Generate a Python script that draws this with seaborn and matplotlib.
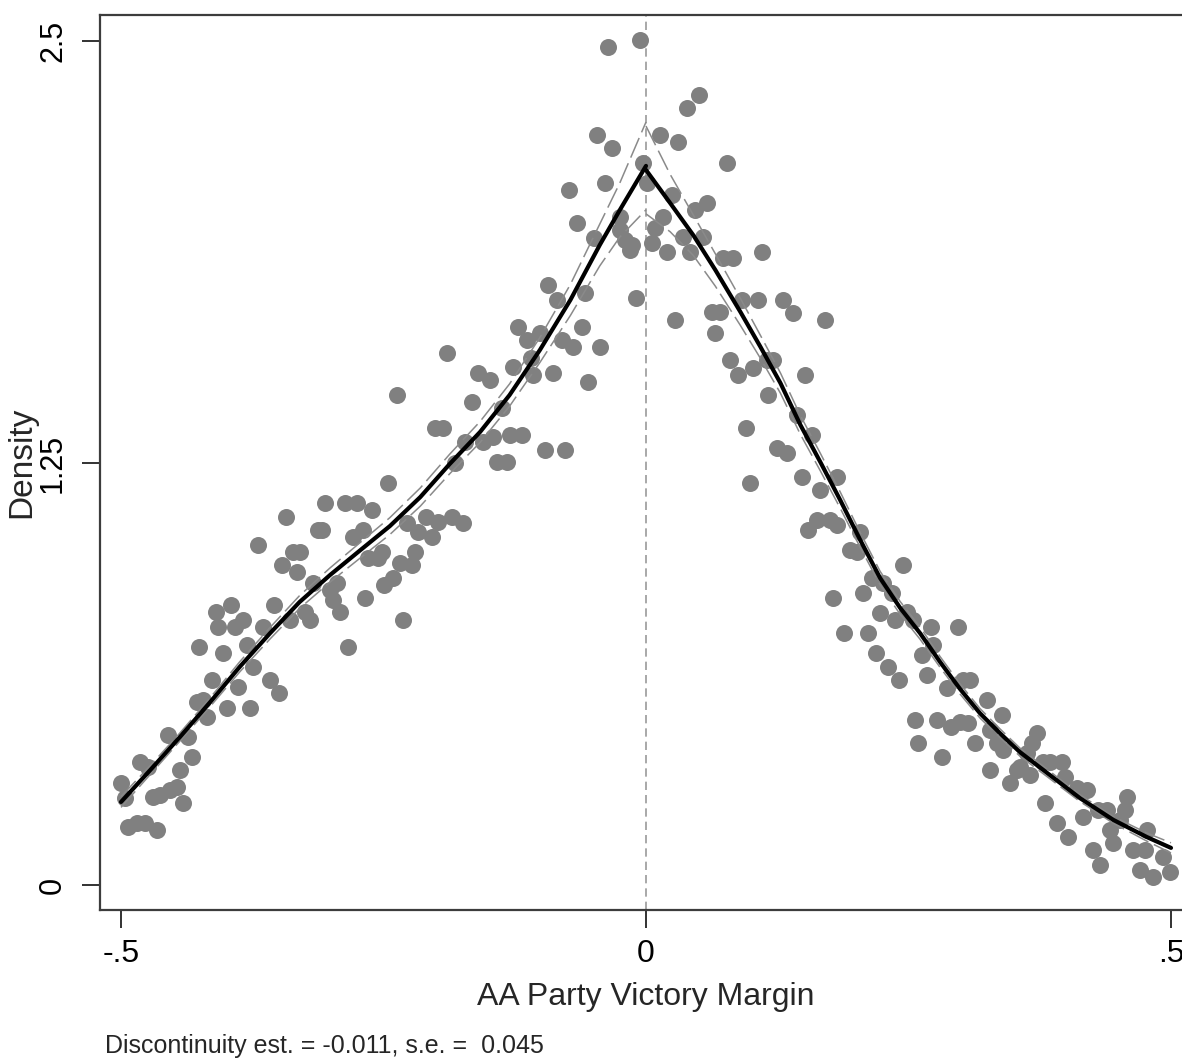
import matplotlib
matplotlib.use("Agg")
import matplotlib.pyplot as plt
import seaborn as sns
import pandas as pd
import numpy as np

# Binned density of the running variable, below the cutoff
left_x = [-0.500, -0.496, -0.493, -0.485, -0.477, -0.466, -0.482, -0.474, -0.470, -0.463,
          -0.455, -0.453, -0.447, -0.444, -0.441, -0.436, -0.432, -0.428, -0.422, -0.418,
          -0.413, -0.399, -0.389, -0.377, -0.426, -0.410, -0.408, -0.403, -0.395, -0.391,
          -0.384, -0.380, -0.374, -0.365, -0.358, -0.354, -0.350, -0.339, -0.347, -0.332,
          -0.370, -0.343, -0.336, -0.330, -0.325, -0.320, -0.317, -0.312, -0.309, -0.306,
          -0.301, -0.294, -0.298, -0.291, -0.287, -0.275, -0.284, -0.279, -0.270, -0.268,
          -0.261, -0.265, -0.255, -0.251, -0.250, -0.246, -0.241, -0.237, -0.234, -0.231,
          -0.228, -0.223, -0.220, -0.217, -0.210, -0.204, -0.201, -0.193, -0.198, -0.185,
          -0.182, -0.174, -0.172, -0.166, -0.190, -0.160, -0.149, -0.155, -0.146, -0.142,
          -0.132, -0.137, -0.130, -0.118, -0.127, -0.122, -0.113, -0.110, -0.108, -0.101,
          -0.096, -0.077, -0.093, -0.085, -0.089, -0.080, -0.070, -0.061, -0.058, -0.055,
          -0.044, -0.015, -0.010, -0.036, -0.006, -0.047, -0.032, -0.073, -0.039, -0.066,
          -0.050, -0.025, -0.025, -0.020, -0.013, -0.003]
left_y = [0.302, 0.258, 0.172, 0.184, 0.184, 0.163, 0.364, 0.350, 0.261, 0.267,
          0.444, 0.281, 0.290, 0.341, 0.243, 0.438, 0.379, 0.542, 0.548, 0.498,
          0.607, 0.524, 0.586, 0.524, 0.705, 0.809, 0.764, 0.687, 0.829, 0.764,
          0.785, 0.711, 0.646, 0.764, 0.607, 0.829, 0.569, 0.785, 0.948, 0.927,
          1.007, 1.090, 0.986, 0.986, 0.809, 0.785, 0.895, 1.052, 1.052, 1.132,
          0.874, 0.895, 0.844, 0.809, 1.132, 1.132, 0.705, 1.031, 1.052, 0.850,
          1.111, 0.969, 0.969, 0.986, 0.889, 1.191, 0.909, 1.451, 0.954, 0.785,
          1.072, 0.948, 0.986, 1.046, 1.090, 1.031, 1.354, 1.354, 1.075, 1.090,
          1.250, 1.072, 1.312, 1.431, 1.576, 1.517, 1.496, 1.312, 1.327, 1.253,
          1.253, 1.413, 1.333, 1.333, 1.534, 1.653, 1.614, 1.561, 1.511, 1.635,
          1.289, 1.289, 1.777, 1.733, 1.517, 1.614, 1.594, 1.653, 1.754, 1.490,
          1.594, 1.881, 1.739, 2.482, 2.503, 2.222, 2.183, 2.059, 2.079, 1.961,
          1.916, 1.979, 1.940, 1.911, 1.896, 2.139]

# Binned density above the cutoff
right_x = [0.001, 0.013, 0.016, 0.009, 0.006, 0.020, 0.025, 0.030, 0.039, 0.050,
           0.035, 0.042, 0.047, 0.058, 0.054, 0.077, 0.073, 0.083, 0.063, 0.070,
           0.028, 0.110, 0.066, 0.091, 0.107, 0.130, 0.140, 0.170, 0.080, 0.088,
           0.102, 0.115, 0.121, 0.151, 0.116, 0.144, 0.158, 0.095, 0.125, 0.134,
           0.099, 0.149, 0.166, 0.182, 0.163, 0.175, 0.154, 0.182, 0.194, 0.204,
           0.201, 0.245, 0.215, 0.207, 0.226, 0.234, 0.223, 0.237, 0.249, 0.254,
           0.178, 0.189, 0.211, 0.219, 0.230, 0.241, 0.263, 0.271, 0.273, 0.268,
           0.256, 0.277, 0.297, 0.287, 0.302, 0.309, 0.325, 0.339, 0.259, 0.290,
           0.299, 0.307, 0.282, 0.313, 0.328, 0.334, 0.340, 0.328, 0.347, 0.353,
           0.363, 0.372, 0.368, 0.356, 0.366, 0.378, 0.385, 0.396, 0.399, 0.380,
           0.391, 0.402, 0.410, 0.420, 0.416, 0.426, 0.432, 0.430, 0.439, 0.458,
           0.456, 0.442, 0.451, 0.445, 0.464, 0.475, 0.477, 0.470, 0.483, 0.492,
           0.499]
right_y = [2.079, 2.222, 1.979, 1.946, 1.902, 1.875, 2.044, 2.201, 2.302, 2.340,
           1.919, 1.875, 1.999, 2.020, 1.919, 2.139, 1.857, 1.857, 1.697, 1.697,
           1.674, 1.875, 1.635, 1.733, 1.733, 1.733, 1.694, 1.674, 1.555, 1.511,
           1.531, 1.555, 1.555, 1.511, 1.451, 1.392, 1.333, 1.354, 1.294, 1.280,
           1.191, 1.209, 1.170, 1.209, 1.081, 1.081, 1.052, 1.066, 0.992, 1.046,
           0.986, 0.948, 0.909, 0.865, 0.895, 0.865, 0.806, 0.785, 0.809, 0.785,
           0.850, 0.746, 0.746, 0.687, 0.646, 0.607, 0.681, 0.764, 0.711, 0.622,
           0.489, 0.489, 0.764, 0.584, 0.607, 0.607, 0.548, 0.504, 0.421, 0.468,
           0.483, 0.480, 0.379, 0.421, 0.459, 0.421, 0.400, 0.341, 0.302, 0.341,
           0.391, 0.450, 0.421, 0.350, 0.326, 0.364, 0.364, 0.364, 0.320, 0.243,
           0.184, 0.142, 0.287, 0.281, 0.201, 0.104, 0.059, 0.222, 0.222, 0.261,
           0.222, 0.163, 0.193, 0.124, 0.104, 0.104, 0.163, 0.044, 0.024, 0.083,
           0.039]

# Local linear density fit on each side of the cutoff, with CI half-widths
fit_left_x = [-0.500, -0.472, -0.444, -0.415, -0.387, -0.358, -0.330, -0.301, -0.272,
              -0.244, -0.215, -0.187, -0.158, -0.130, -0.101, -0.072, -0.044, -0.025, 0.000]
fit_left_y = [0.246, 0.341, 0.438, 0.542, 0.646, 0.746, 0.838, 0.918, 0.992,
              1.063, 1.149, 1.247, 1.342, 1.451, 1.585, 1.733, 1.896, 1.999, 2.130]
ci_left = [0.016, 0.013, 0.012, 0.013, 0.015, 0.017, 0.019, 0.021, 0.023,
           0.025, 0.027, 0.029, 0.031, 0.033, 0.037, 0.046, 0.062, 0.080, 0.130]

fit_right_x = [0.000, 0.023, 0.045, 0.066, 0.090, 0.109, 0.128, 0.147, 0.166, 0.185,
               0.204, 0.223, 0.242, 0.261, 0.280, 0.299, 0.318, 0.337, 0.356, 0.382,
               0.413, 0.445, 0.477, 0.500]
fit_right_y = [2.118, 2.020, 1.925, 1.822, 1.697, 1.594, 1.487, 1.363, 1.253, 1.140,
               1.022, 0.909, 0.821, 0.746, 0.661, 0.581, 0.509, 0.450, 0.394, 0.332,
               0.258, 0.193, 0.142, 0.110]
ci_right = [0.130, 0.085, 0.060, 0.048, 0.040, 0.034, 0.030, 0.028, 0.026, 0.024,
            0.022, 0.020, 0.019, 0.018, 0.016, 0.015, 0.014, 0.013, 0.012, 0.011,
            0.010, 0.010, 0.012, 0.015]

x_ticks = [-0.5, 0, 0.5]
x_ticklabels = ["-.5", "0", ".5"]
y_ticks = [0, 1.25, 2.5]
y_ticklabels = ["0", "1.25", "2.5"]

disc_est = -0.011
disc_se = 0.045

sns.set_style("white")
plt.rcParams["font.family"] = ["Liberation Sans", "DejaVu Sans"]

fig = plt.figure(figsize=(11.82, 10.59), dpi=100)
ax = fig.add_axes([100 / 1182, 149 / 1059, 1092 / 1182, 895 / 1059])

points = pd.DataFrame({"margin": left_x + right_x, "density": left_y + right_y})
sns.scatterplot(data=points, x="margin", y="density", color="#808080", s=150,
                linewidth=0, ax=ax, zorder=2)

ci_style = dict(color="#8a8a8a", linewidth=1.1, linestyle=(0, (14, 4)), zorder=3)
for fx, fy, hw in [(fit_left_x, fit_left_y, ci_left), (fit_right_x, fit_right_y, ci_right)]:
    fy = np.asarray(fy)
    hw = np.asarray(hw)
    sns.lineplot(x=fx, y=fy + hw, sort=False, estimator=None, ax=ax, **ci_style)
    sns.lineplot(x=fx, y=fy - hw, sort=False, estimator=None, ax=ax, **ci_style)
    sns.lineplot(x=fx, y=fy, sort=False, estimator=None, ax=ax,
                 color="black", linewidth=3.0, zorder=4)

ax.axvline(0, color="#9a9a9a", linewidth=1.2, linestyle=(0, (5, 3)), zorder=1)

ax.set_xlim(-0.52, 0.52)
ax.set_ylim(-0.074, 2.577)
ax.set_xticks(x_ticks)
ax.set_xticklabels(x_ticklabels)
ax.set_yticks(y_ticks)
ax.set_yticklabels(y_ticklabels, rotation=90, va="center")

for side in ["left", "bottom", "top", "right"]:
    ax.spines[side].set_color("#3c3c3c")
    ax.spines[side].set_linewidth(1.6)

ax.tick_params(axis="both", direction="out", length=13, width=1.3, color="#222222",
               labelcolor="black", bottom=True, left=True)
ax.tick_params(axis="x", pad=8, labelsize=23)
ax.tick_params(axis="y", pad=10, labelsize=22)

ax.set_xlabel("AA Party Victory Margin", fontsize=23, labelpad=9)
ax.set_ylabel("Density", fontsize=24)
ax.yaxis.set_label_coords(-0.0577, 0.5)

fig.text(105 / 1182, 1 - 1053 / 1059,
         f"Discontinuity est. = {disc_est:.3f}, s.e. =  {disc_se:.3f}",
         fontsize=18, ha="left", va="baseline")

fig.savefig("out.png", dpi=100)
